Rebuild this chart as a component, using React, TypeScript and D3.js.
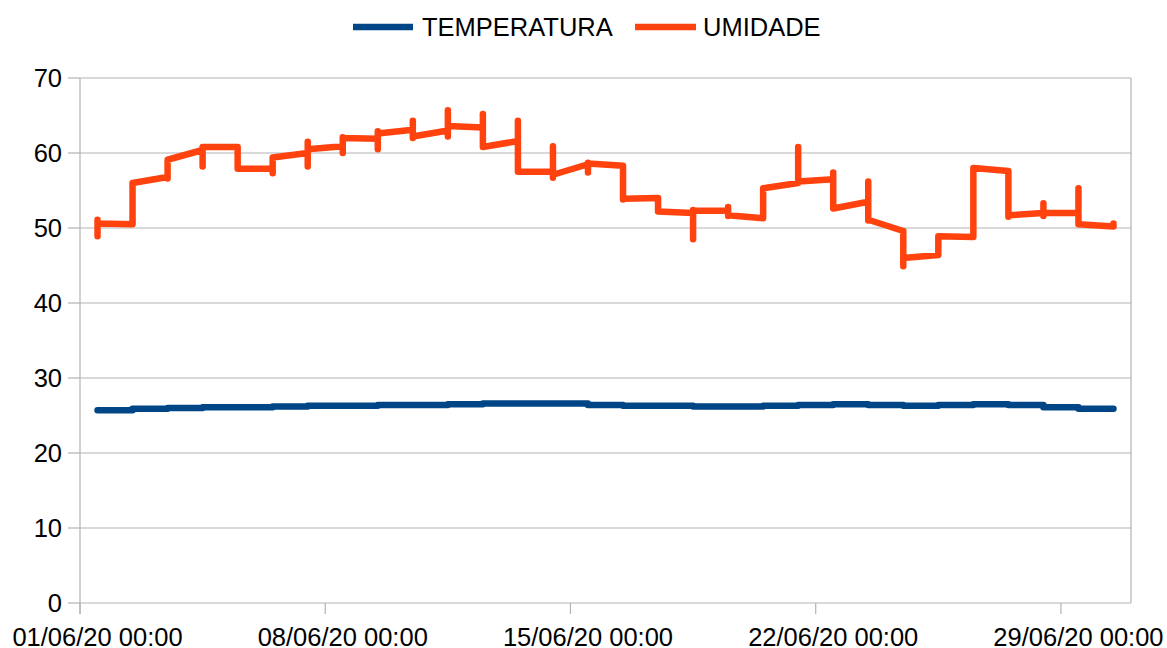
import React from "react";
import * as d3 from "d3";

const WIDTH = 1167;
const HEIGHT = 648;

// Day index (0 = 01/06/2020 12:00, one reading per day)
const dayIndex = d3.range(30);

// TEMPERATURA: daily level (step after)
const tempValues = [
  25.7, 25.9, 26.0, 26.1, 26.1, 26.2, 26.3, 26.3, 26.4, 26.4,
  26.5, 26.6, 26.6, 26.6, 26.4, 26.3, 26.3, 26.2, 26.2, 26.3,
  26.4, 26.5, 26.4, 26.3, 26.4, 26.5, 26.4, 26.1, 25.9, 25.9,
];

// UMIDADE: value arriving at the day, spike low/high, value leaving the day
const humArrive = [
  50.6, 50.5, 56.8, 60.4, 60.8, 57.9, 60.0, 60.9, 61.9, 63.1,
  63.0, 63.4, 61.6, 57.5, 58.5, 58.3, 54.0, 52.0, 52.3, 51.3,
  56.0, 56.5, 53.5, 49.6, 46.4, 48.8, 57.6, 52.0, 52.0, 50.2,
];
const humLow = [
  48.9, 50.5, 56.6, 58.2, 57.9, 57.3, 58.2, 60.0, 60.5, 62.0,
  62.2, 60.8, 57.5, 56.7, 57.4, 53.8, 52.2, 48.5, 51.6, 51.3,
  56.0, 52.6, 51.0, 44.9, 46.4, 48.8, 51.5, 51.6, 50.5, 50.2,
];
const humHigh = [
  51.1, 56.0, 59.1, 60.8, 60.8, 59.4, 61.5, 62.1, 62.9, 64.3,
  65.7, 65.2, 64.3, 60.9, 58.7, 58.3, 54.0, 52.4, 52.8, 55.3,
  60.8, 57.4, 56.2, 49.6, 48.9, 58.0, 57.6, 53.3, 55.3, 50.6,
];
const humLeave = [
  50.6, 56.0, 59.1, 60.8, 57.9, 59.4, 60.5, 62.0, 62.6, 62.2,
  63.6, 60.8, 57.5, 57.1, 58.6, 53.9, 52.2, 52.3, 51.7, 55.3,
  56.2, 52.6, 51.1, 46.0, 48.9, 58.0, 51.7, 52.0, 50.5, 50.2,
];

const yTicks = [0, 10, 20, 30, 40, 50, 60, 70];
const xTickDays = [1, 8, 15, 22, 29];
const seriesNames = ["TEMPERATURA", "UMIDADE"];
const colors = ["#004586", "#ff420e"];

const FONT = "'Liberation Sans', Arial, sans-serif";

export default function App() {
  const left = 80;
  const right = 1131;
  const top = 78;
  const bottom = 603;

  const x = d3
    .scaleTime()
    .domain([new Date(2020, 5, 1, 0), new Date(2020, 6, 1, 0)])
    .range([left, right]);
  const y = d3.scaleLinear().domain([0, 70]).range([bottom, top]);

  const dateOf = (i: number) => new Date(2020, 5, 1 + i, 12);

  const tempLine = d3
    .line<number>()
    .x((i) => x(dateOf(i)))
    .y((i) => y(tempValues[i]))
    .curve(d3.curveStepAfter);

  const humPoints: [Date, number][] = [];
  dayIndex.forEach((i) => {
    const dt = dateOf(i);
    humPoints.push([dt, humArrive[i]]);
    humPoints.push([dt, humLow[i]]);
    humPoints.push([dt, humHigh[i]]);
    humPoints.push([dt, humLeave[i]]);
  });
  const humLine = d3
    .line<[Date, number]>()
    .x((d) => x(d[0]))
    .y((d) => y(d[1]));

  const halfDay = x(new Date(2020, 5, 1, 12)) - x(new Date(2020, 5, 1, 0));
  const fmt = d3.timeFormat("%d/%m/%y %H:%M");

  const legendItems = [
    { name: seriesNames[0], color: colors[0], x1: 353, x2: 413, tx: 422 },
    { name: seriesNames[1], color: colors[1], x1: 635, x2: 696, tx: 703 },
  ];

  return (
    <svg
      width={WIDTH}
      height={HEIGHT}
      style={{ position: "absolute", left: 0, top: 0, background: "#fff" }}
      fontFamily={FONT}
    >
      <rect x={0} y={0} width={WIDTH} height={HEIGHT} fill="#fff" />
      {/* gridlines */}
      {yTicks.map((t) => (
        <line
          key={"g" + t}
          x1={left}
          x2={right}
          y1={y(t)}
          y2={y(t)}
          stroke="#b3b3b3"
          strokeWidth={1.2}
        />
      ))}
      {/* right border */}
      <line x1={right} x2={right} y1={top} y2={bottom} stroke="#b3b3b3" strokeWidth={1.2} />
      {/* y axis */}
      <line x1={left} x2={left} y1={top} y2={bottom + 11} stroke="#b3b3b3" strokeWidth={1.2} />
      {yTicks.map((t) => (
        <g key={"yt" + t}>
          <line x1={left - 12} x2={left} y1={y(t)} y2={y(t)} stroke="#b3b3b3" strokeWidth={1.2} />
          <text
            x={62}
            y={y(t)}
            dy="0.357em"
            textAnchor="end"
            fontSize={25.5}
            fill="#000"
          >
            {t}
          </text>
        </g>
      ))}
      {/* x axis ticks */}
      {xTickDays.map((d) => {
        const dt = new Date(2020, 5, d, 0);
        const px = x(dt);
        return (
          <g key={"xt" + d}>
            <line x1={px} x2={px} y1={bottom} y2={bottom + 11} stroke="#b3b3b3" strokeWidth={1.2} />
            <text
              x={px + halfDay}
              y={646}
              textAnchor="middle"
              fontSize={25.5}
              fill="#000"
            >
              {fmt(dt)}
            </text>
          </g>
        );
      })}
      {/* series */}
      <path
        d={tempLine(dayIndex) || ""}
        fill="none"
        stroke={colors[0]}
        strokeWidth={6.5}
        strokeLinejoin="round"
        strokeLinecap="round"
      />
      <path
        d={humLine(humPoints) || ""}
        fill="none"
        stroke={colors[1]}
        strokeWidth={6.5}
        strokeLinejoin="round"
        strokeLinecap="round"
      />
      {/* legend */}
      {legendItems.map((l) => (
        <g key={l.name}>
          <line x1={l.x1} x2={l.x2} y1={27} y2={27} stroke={l.color} strokeWidth={6.5} />
          <text x={l.tx} y={36} fontSize={25.5} fill="#000">
            {l.name}
          </text>
        </g>
      ))}
    </svg>
  );
}
